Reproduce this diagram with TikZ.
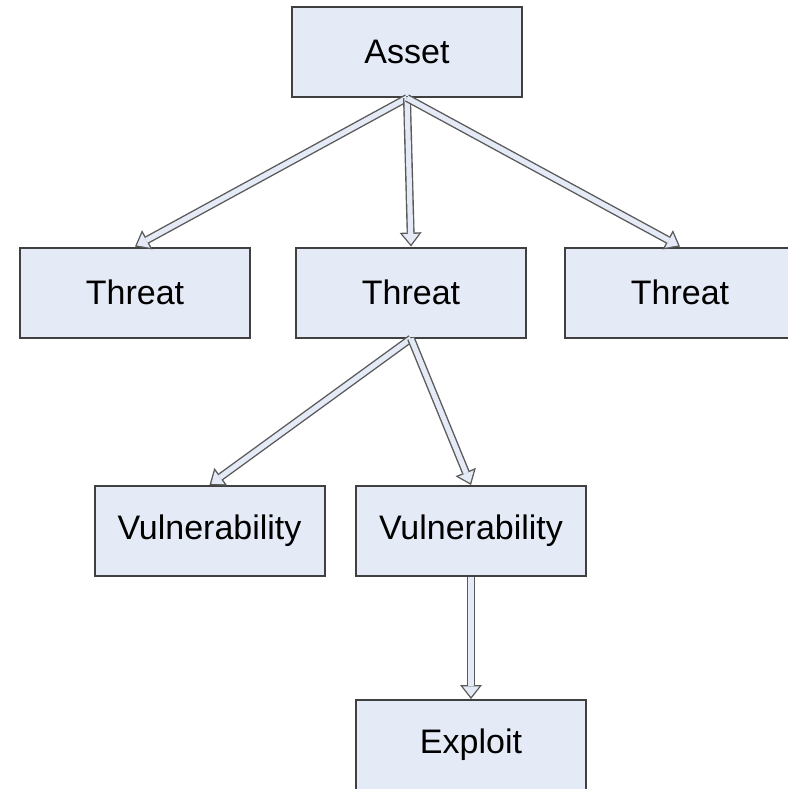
\documentclass[tikz,border=0pt]{standalone}
\usepackage{fontspec}
\setmainfont{Liberation Sans}
\usetikzlibrary{arrows.meta}

\definecolor{boxfill}{RGB}{228,234,246}
\definecolor{boxline}{RGB}{64,64,64}
\definecolor{arrline}{RGB}{90,90,90}

\begin{document}
\begin{tikzpicture}[x=0.5pt,y=-0.5pt]
        \tikzstyle{item}=[draw=boxline,fill=boxfill,line width=1pt,
            minimum width=115pt,minimum height=45pt,inner sep=0pt,
            font=\fontsize{17}{20}\selectfont]
        \tikzstyle{arrout}=[draw=arrline,line width=4pt,
            -{Triangle[length=7pt,width=11pt,line width'=0pt]}]
        \tikzstyle{arrin}=[draw=boxfill,line width=2.6pt,shorten >=1.1pt,
            -{Triangle[length=5.2pt,width=8.2pt,line width'=0pt]}]

        \useasboundingbox (0,0) rectangle (788,789);
        \clip (0,0) rectangle (788,789);

        \node [item] at (407,52) (asset) {Asset};
        \node [item] at (135,292.5) (threatL) {Threat};
        \node [item] at (411,292.5) (threatM) {Threat};
        \node [item] at (680,292.5) (threatR) {Threat};
        \node [item] at (209.5,531) (vulnL) {Vulnerability};
        \node [item] at (471,531) (vulnR) {Vulnerability};
        \node [item] at (471,745) (exploit) {Exploit};

        % hollow arrows: dark outline first, light core on top
        \foreach \from/\to in {asset/threatL, asset/threatM, asset/threatR,
                threatM/vulnL, threatM/vulnR, vulnR/exploit} {
            \draw[arrout] (\from.south) -- (\to.north);
            \draw[arrin] (\from.south) -- (\to.north);
        };
\end{tikzpicture}
\end{document}
